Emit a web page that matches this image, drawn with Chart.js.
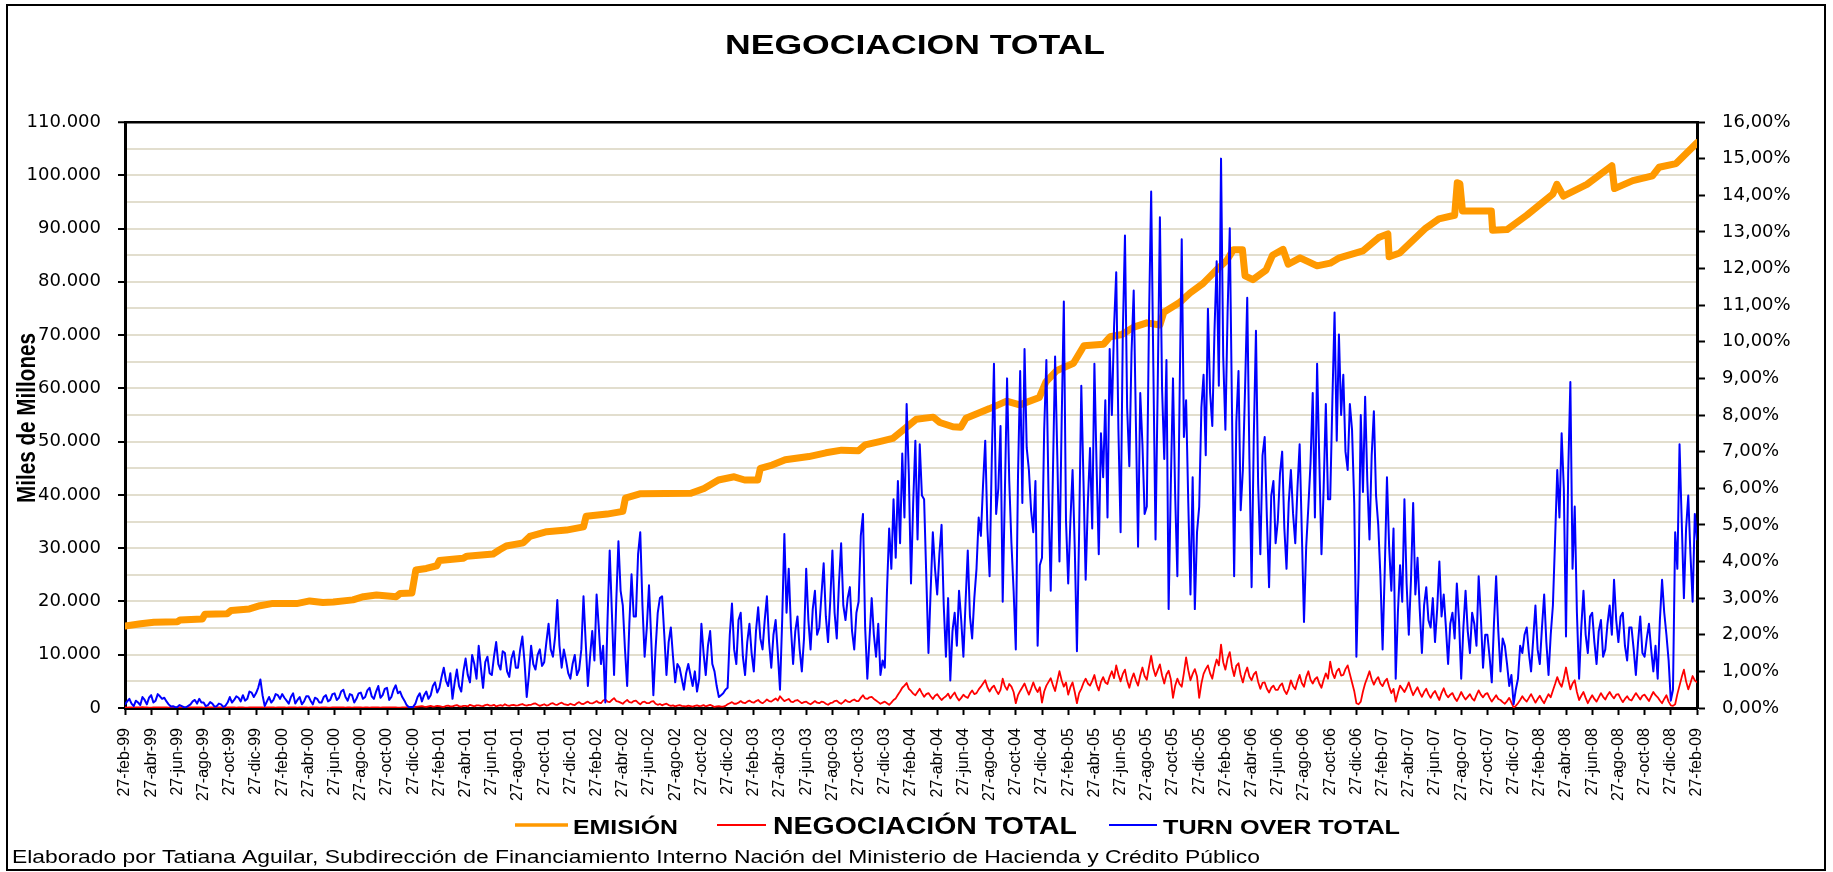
<!DOCTYPE html>
<html>
<head>
<meta charset="utf-8">
<title>Negociación total</title>
<script src="https://cdn.jsdelivr.net/npm/chart.js@4.4.1/dist/chart.umd.min.js"></script>
<style>
  html, body { margin: 0; padding: 0; background: #fff; }
</style>
</head>
<body>
<canvas id="grafico" width="1833" height="872"></canvas>
<script>
// Etiquetas del eje X (una cada 2 meses desde 27-feb-99)
const fechas = [
  '27-feb-99', '27-abr-99', '27-jun-99', '27-ago-99', '27-oct-99', '27-dic-99',
  '27-feb-00', '27-abr-00', '27-jun-00', '27-ago-00', '27-oct-00', '27-dic-00',
  '27-feb-01', '27-abr-01', '27-jun-01', '27-ago-01', '27-oct-01', '27-dic-01',
  '27-feb-02', '27-abr-02', '27-jun-02', '27-ago-02', '27-oct-02', '27-dic-02',
  '27-feb-03', '27-abr-03', '27-jun-03', '27-ago-03', '27-oct-03', '27-dic-03',
  '27-feb-04', '27-abr-04', '27-jun-04', '27-ago-04', '27-oct-04', '27-dic-04',
  '27-feb-05', '27-abr-05', '27-jun-05', '27-ago-05', '27-oct-05', '27-dic-05',
  '27-feb-06', '27-abr-06', '27-jun-06', '27-ago-06', '27-oct-06', '27-dic-06',
  '27-feb-07', '27-abr-07', '27-jun-07', '27-ago-07', '27-oct-07', '27-dic-07',
  '27-feb-08', '27-abr-08', '27-jun-08', '27-ago-08', '27-oct-08', '27-dic-08',
  '27-feb-09'
];

// EMISIÓN: puntos de quiebre (meses desde 27-feb-99) y saldo en miles de millones
const emisionMes = [
  0, 1.2, 2.2, 4.0, 4.2, 5.9, 6.1, 7.8, 8.1, 9.5, 10.3, 11.2, 13.1, 14.1, 15.1, 15.9,
  17.4, 18.2, 19.2, 20.7, 21.0, 21.9, 22.2, 23.0, 23.8, 24.0, 25.8, 26.1, 28.1, 28.6,
  29.1, 30.4, 30.9, 32.2, 33.7, 35.0, 35.2, 36.8, 38.0, 38.2, 39.3, 43.2, 44.2, 45.3,
  46.5, 47.3, 48.3, 48.5, 49.4, 50.4, 52.2, 53.5, 54.7, 56.0, 56.5, 57.6, 58.6, 59.4,
  60.4, 61.7, 62.2, 63.2, 63.8, 64.2, 66.0, 67.3, 68.3, 69.8, 70.3, 71.1, 72.4, 73.2,
  74.7, 75.2, 76.1, 77.0, 78.0, 79.0, 79.3, 80.5, 81.3, 82.3, 83.3, 84.1, 84.6, 85.3,
  85.5, 86.1, 87.1, 87.6, 88.4, 88.8, 89.7, 91.0, 92.0, 92.7, 94.5, 95.7, 96.4, 96.5,
  97.3, 99.3, 100.3, 101.5, 101.7, 101.9, 102.1, 104.3, 104.4, 105.5, 107.0, 109.0,
  109.3, 109.8, 111.6, 113.5, 113.7, 115.1, 116.6, 117.1, 118.4, 120
];
const emisionValor = [
  15.4, 15.8, 16.1, 16.2, 16.5, 16.7, 17.6, 17.7, 18.3, 18.6, 19.2, 19.6, 19.6, 20.1, 19.8, 19.9,
  20.3, 20.9, 21.2, 20.9, 21.5, 21.6, 25.9, 26.2, 26.7, 27.7, 28.1, 28.5, 28.9, 29.7,
  30.4, 31.0, 32.2, 33.1, 33.4, 34.0, 36.0, 36.4, 36.9, 39.4, 40.2, 40.3, 41.2, 42.8,
  43.4, 42.8, 42.8, 45.0, 45.6, 46.6, 47.2, 47.9, 48.4, 48.3, 49.4, 50.0, 50.6, 52.2,
  54.2, 54.6, 53.6, 52.8, 52.7, 54.4, 56.2, 57.6, 56.9, 58.3, 61.2, 63.3, 64.7, 68.0,
  68.3, 69.7, 70.1, 71.5, 72.3, 71.9, 74.3, 76.1, 77.9, 79.7, 82.2, 84.0, 86.0, 86.0,
  81.1, 80.4, 82.2, 85.0, 86.1, 83.3, 84.5, 83.0, 83.5, 84.5, 85.8, 88.3, 89.0, 84.7,
  85.4, 90.1, 91.8, 92.5, 98.6, 98.4, 93.3, 93.3, 89.7, 89.8, 92.5, 96.5,
  98.3, 96.1, 98.3, 101.8, 97.5, 99.0, 99.9, 101.5, 102.2, 106.1
];

// NEGOCIACIÓN TOTAL: 6 lecturas por mes, miles de millones (años feb-feb)
const negociacion1999 = [
  0.10,0.08,0.12,0.10,0.08,0.10, 0.10,0.12,0.15,0.10,0.10,0.08, 0.08,0.10,0.10,0.12,0.12,0.10,
  0.10,0.12,0.08,0.10,0.10,0.08, 0.12,0.10,0.10,0.08,0.08,0.10, 0.10,0.12,0.12,0.10,0.10,0.12,
  0.08,0.10,0.10,0.10,0.10,0.08, 0.12,0.10,0.10,0.12,0.08,0.10, 0.10,0.10,0.12,0.08,0.10,0.12,
  0.10,0.08,0.08,0.10,0.12,0.10, 0.10,0.12,0.10,0.10,0.08,0.10, 0.12,0.10,0.10,0.08,0.10,0.12
];
const negociacion2000 = [
  0.10,0.12,0.08,0.10,0.12,0.10, 0.10,0.08,0.10,0.12,0.12,0.10, 0.08,0.10,0.10,0.12,0.10,0.08,
  0.12,0.10,0.10,0.08,0.08,0.10, 0.10,0.12,0.12,0.10,0.10,0.08, 0.10,0.10,0.08,0.12,0.12,0.10,
  0.10,0.08,0.10,0.12,0.08,0.10, 0.12,0.10,0.10,0.08,0.10,0.12, 0.10,0.12,0.12,0.10,0.10,0.08,
  0.08,0.10,0.12,0.10,0.15,0.12, 0.10,0.20,0.25,0.30,0.35,0.25, 0.20,0.30,0.40,0.25,0.30,0.38
];
const negociacion2001 = [
  0.35,0.25,0.20,0.38,0.45,0.30, 0.30,0.45,0.55,0.35,0.25,0.40, 0.40,0.30,0.60,0.45,0.30,0.50,
  0.50,0.40,0.35,0.55,0.65,0.45, 0.45,0.60,0.30,0.45,0.55,0.40, 0.70,0.50,0.40,0.55,0.60,0.45,
  0.50,0.65,0.75,0.55,0.45,0.60, 0.60,0.80,0.85,0.60,0.40,0.55, 0.70,0.45,0.55,0.80,0.90,0.65,
  0.60,0.85,1.00,0.75,0.65,0.55, 0.80,0.65,0.55,0.90,1.10,0.80, 0.75,1.00,1.20,0.90,0.85,1.05
];
const negociacion2002 = [
  1.30,1.00,0.90,1.40,1.60,1.20, 1.10,1.50,1.85,1.30,1.20,1.00, 0.80,1.20,1.50,1.10,1.00,1.30,
  1.40,1.00,0.70,1.10,1.20,0.90, 0.90,1.20,1.30,0.80,0.60,0.75, 0.50,0.70,0.80,0.55,0.40,0.50,
  0.30,0.45,0.55,0.40,0.35,0.30, 0.45,0.35,0.25,0.40,0.50,0.35, 0.40,0.55,0.30,0.45,0.60,0.40,
  0.20,0.30,0.35,0.25,0.25,0.40, 0.70,0.90,1.10,0.80,0.80,1.00, 1.30,1.00,0.90,1.20,1.40,1.10
];
const negociacion2003 = [
  1.00,1.30,1.50,1.10,0.90,1.20, 1.60,1.30,1.20,1.50,1.80,1.40, 2.20,1.70,1.30,1.50,1.70,1.20,
  1.10,1.40,1.50,1.20,0.90,1.10, 1.20,0.90,0.70,1.00,1.30,1.00, 0.90,1.20,1.10,0.80,0.60,0.90,
  1.00,1.30,1.40,1.00,0.80,1.10, 1.50,1.20,1.10,1.40,1.60,1.30, 1.30,1.90,2.40,1.80,1.70,2.00,
  2.10,1.70,1.40,1.10,0.80,1.00, 1.20,0.90,0.60,1.00,1.50,1.80, 2.50,3.10,3.80,4.20,4.70,3.60
];
const negociacion2004 = [
  3.20,2.70,2.40,3.00,3.60,2.80, 2.10,2.60,2.80,2.20,1.70,2.30, 2.60,2.00,1.50,1.90,2.20,2.70,
  1.80,2.40,2.90,2.00,1.40,1.90, 2.50,2.10,1.90,2.70,3.30,2.60, 2.80,3.50,4.00,4.60,5.20,3.90,
  3.10,3.80,4.20,3.30,2.60,3.40, 5.50,4.10,3.40,4.50,4.00,3.00, 0.90,2.40,3.20,3.90,4.60,3.50,
  2.50,3.60,4.80,3.70,3.00,3.90, 1.00,3.10,4.20,4.90,5.60,4.30, 3.20,5.10,6.90,5.20,4.00,4.80
];
const negociacion2005 = [
  2.50,3.90,4.80,3.00,0.90,2.80, 3.60,4.70,5.50,4.60,4.20,5.10, 6.20,4.40,3.30,4.90,5.80,4.80,
  4.50,5.90,6.90,5.60,8.00,6.30, 5.00,6.40,7.20,5.10,3.80,5.40, 6.50,5.20,4.20,6.10,7.60,6.00,
  5.30,7.70,9.80,7.40,6.00,7.10, 8.20,6.10,4.60,6.30,7.00,5.40, 1.90,4.20,5.50,4.50,4.00,6.60,
  9.50,7.10,5.20,6.40,7.30,5.90, 1.90,4.60,6.40,7.30,8.00,6.50, 5.50,7.60,9.10,8.00,11.90,8.60
];
const negociacion2006 = [
  7.20,9.30,10.50,7.70,6.00,7.90, 8.40,6.20,4.80,6.50,7.60,5.90, 5.20,6.30,6.80,4.90,3.60,4.70,
  4.80,3.60,2.90,3.80,4.20,3.40, 3.40,4.20,4.60,3.30,2.60,3.60, 5.20,4.10,3.50,5.00,6.20,4.70,
  4.00,5.80,6.90,5.30,4.60,5.40, 5.80,4.60,3.80,5.30,6.50,5.50, 8.70,6.60,5.60,6.90,7.40,6.10,
  6.20,7.30,8.00,6.40,4.80,3.20, 0.90,0.70,1.20,3.10,4.60,5.70, 6.90,5.40,4.40,5.30,5.80,4.60
];
const negociacion2007 = [
  4.10,5.00,5.50,4.00,2.80,3.60, 1.20,2.80,4.20,3.60,3.00,3.80, 4.80,3.50,2.40,3.20,3.90,2.90,
  2.10,3.00,3.60,2.60,1.90,2.70, 3.20,2.30,1.50,2.80,3.70,2.60, 2.00,2.50,2.80,1.90,1.30,2.10,
  3.00,2.20,1.60,2.10,2.60,1.80, 1.40,2.40,3.30,2.50,2.00,2.60, 2.80,1.90,1.20,1.80,2.40,1.70,
  1.50,1.10,0.80,1.30,1.90,1.00, 0.10,0.40,0.90,1.50,2.20,1.60, 1.20,1.90,2.60,1.80,1.00,1.70
];
const negociacion2008 = [
  2.30,1.50,0.90,1.80,2.60,2.00, 3.30,4.50,5.80,4.70,4.00,5.60, 7.60,5.40,3.50,4.60,5.20,3.00,
  1.50,2.30,3.00,1.90,0.90,1.70, 2.40,1.70,1.20,2.00,2.80,2.10, 1.60,2.40,3.00,2.30,1.80,2.50,
  2.60,1.80,1.10,1.70,2.20,1.60, 1.40,2.10,2.80,2.20,1.60,2.30, 2.50,1.90,1.30,2.20,3.00,2.40,
  2.00,1.40,0.90,1.70,2.40,1.20, 0.50,0.40,0.70,2.60,4.20,5.80, 7.20,5.00,3.50,4.70,6.00,5.20,
  4.80
];

// TURN OVER TOTAL: 6 lecturas por mes, en % (eje derecho)
const turnover1999 = [
  0.10,0.18,0.25,0.12,0.05,0.20, 0.15,0.08,0.30,0.22,0.10,0.28, 0.35,0.15,0.20,0.38,0.32,0.25,
  0.28,0.18,0.10,0.04,0.05,0.02, 0.03,0.08,0.05,0.02,0.02,0.06, 0.10,0.18,0.22,0.12,0.25,0.15,
  0.15,0.05,0.08,0.16,0.12,0.04, 0.05,0.12,0.10,0.03,0.06,0.15, 0.30,0.15,0.22,0.32,0.28,0.18,
  0.35,0.20,0.25,0.45,0.42,0.30, 0.40,0.55,0.78,0.35,0.05,0.18, 0.30,0.15,0.22,0.38,0.35,0.25
];
const turnover2000 = [
  0.38,0.28,0.20,0.12,0.30,0.40, 0.12,0.22,0.30,0.10,0.18,0.32, 0.32,0.20,0.10,0.28,0.25,0.15,
  0.15,0.30,0.35,0.18,0.22,0.38, 0.40,0.22,0.28,0.45,0.50,0.30, 0.20,0.38,0.35,0.15,0.25,0.40,
  0.42,0.25,0.30,0.48,0.55,0.32, 0.25,0.45,0.60,0.28,0.35,0.52, 0.55,0.22,0.30,0.50,0.62,0.40,
  0.45,0.30,0.20,0.08,0.02,0.03, 0.03,0.12,0.30,0.40,0.18,0.35, 0.45,0.25,0.35,0.60,0.70,0.42
];
const turnover2001 = [
  0.55,0.85,1.10,0.75,0.60,0.95, 0.25,0.70,1.05,0.60,0.45,1.00, 1.35,0.90,0.70,1.45,1.20,0.80,
  1.70,1.10,0.55,1.25,1.40,0.95, 0.90,1.40,1.80,1.20,1.05,1.55, 1.50,1.00,0.85,1.35,1.55,1.10,
  1.10,1.60,1.95,1.25,0.30,0.90, 1.70,1.20,1.05,1.45,1.60,1.15, 1.25,1.80,2.30,1.60,1.40,1.95,
  2.95,1.70,1.10,1.60,1.30,0.95, 0.80,1.20,1.45,0.90,1.05,1.60, 3.05,1.80,0.60,1.40,2.10,1.30
];
const turnover2002 = [
  3.10,2.20,1.20,1.70,0.15,2.40, 4.30,2.60,0.90,2.90,4.55,3.20, 2.80,1.60,0.60,2.30,3.65,2.50,
  2.50,4.20,4.80,2.80,1.40,2.20, 3.35,1.90,0.35,1.60,2.60,3.00, 3.05,2.00,0.90,1.80,2.20,1.40,
  0.70,1.20,1.10,0.80,0.50,0.95, 1.20,0.90,0.60,1.00,0.45,0.80, 2.30,1.50,0.90,1.70,2.10,1.20,
  1.00,0.60,0.30,0.35,0.40,0.50, 0.55,2.00,2.85,1.60,1.20,2.40, 2.60,1.40,0.90,1.80,2.30,1.50
];
const turnover2003 = [
  1.00,2.10,2.75,1.90,1.60,2.40, 3.05,1.80,1.10,2.00,2.40,1.50, 0.50,2.40,4.75,2.60,3.80,2.20,
  1.20,2.10,2.50,1.60,1.00,1.90, 3.80,2.40,1.60,2.70,3.20,2.00, 2.20,3.10,3.95,2.50,1.80,2.90,
  4.30,2.60,1.90,3.40,4.50,2.80, 2.40,3.00,3.30,2.10,1.60,2.60, 2.90,4.70,5.30,2.20,0.80,1.90,
  3.00,2.00,1.40,2.30,0.90,1.30, 1.10,3.20,4.90,3.80,5.70,4.10, 6.20,4.50,6.95,5.20,8.30,6.40
];
const turnover2004 = [
  3.40,5.60,7.30,4.60,7.20,5.80, 5.70,3.60,1.50,3.20,4.80,3.80, 3.10,4.20,5.00,2.80,1.40,3.00,
  0.75,2.10,2.60,1.70,3.20,2.40, 1.40,2.90,4.30,2.50,1.90,3.00, 3.80,5.20,4.70,6.10,7.30,4.90,
  3.60,6.80,9.40,5.30,6.00,7.70, 2.90,5.90,9.00,6.20,4.50,3.20, 1.60,6.30,9.20,5.60,9.80,7.10,
  6.50,5.40,4.80,6.20,1.70,3.90, 4.10,7.60,9.50,5.80,3.20,6.40, 9.60,6.90,4.00,7.80,11.10,5.10
];
const turnover2005 = [
  3.40,5.10,6.50,4.40,1.55,4.80, 8.80,6.20,3.50,5.60,7.10,4.90, 9.40,6.60,4.20,7.50,6.30,8.40,
  5.20,9.80,8.00,10.40,11.90,7.60, 4.80,10.20,12.90,8.20,6.60,9.70, 11.40,7.80,4.40,8.60,7.20,5.30,
  5.50,10.60,14.10,9.30,4.60,8.80, 13.40,8.70,6.80,9.50,2.70,6.10, 9.00,5.80,3.60,8.40,12.80,7.40,
  8.40,5.60,3.10,6.30,2.70,4.80, 5.50,8.20,9.10,6.90,10.90,8.60, 7.70,10.30,12.20,8.80,15.00,9.60
];
const turnover2006 = [
  7.60,10.80,13.10,8.20,3.60,7.80, 9.20,5.40,6.50,8.70,11.20,6.80, 3.30,7.40,10.30,6.10,4.20,6.90,
  7.40,5.20,3.30,5.80,6.20,4.50, 5.10,6.40,7.00,4.90,3.80,5.60, 6.50,5.30,4.50,6.00,7.20,4.80,
  2.35,4.40,5.50,6.70,8.60,5.20, 9.40,6.80,4.20,6.00,8.30,5.70, 5.70,8.40,10.80,7.30,10.20,8.00,
  9.10,7.00,6.50,8.30,7.60,5.60, 1.40,3.70,8.00,5.90,8.50,6.20, 4.60,6.90,8.10,5.80,5.00,3.60
];
const turnover2007 = [
  1.60,3.80,6.30,4.40,3.20,4.90, 0.80,2.60,3.90,2.90,5.70,3.40, 2.00,3.50,5.60,3.10,4.10,2.70,
  1.50,2.80,3.30,2.40,2.20,3.00, 1.80,2.70,4.00,2.50,3.10,2.20, 1.20,2.30,2.60,1.90,3.40,2.40,
  0.80,2.20,3.20,2.10,1.50,2.60, 2.30,1.70,3.60,2.50,1.10,2.00, 2.00,1.40,0.70,2.30,3.60,2.10,
  1.00,1.90,1.70,1.20,0.60,0.90, 0.10,0.50,0.80,1.70,1.50,2.00, 2.20,1.50,1.00,1.90,2.80,1.60
];
const turnover2008 = [
  1.20,2.20,3.10,1.80,0.90,2.00, 2.80,4.60,6.50,5.20,7.50,6.00, 1.95,6.40,8.90,3.80,5.50,2.60,
  0.80,2.20,3.20,2.00,1.50,2.50, 2.60,1.80,1.20,2.10,2.40,1.40, 1.60,2.30,2.80,2.00,3.50,2.40,
  1.80,2.50,2.60,1.70,1.30,2.20, 2.20,1.60,0.90,1.80,2.50,1.50, 1.40,1.90,2.30,1.60,1.00,1.70,
  0.80,2.40,3.50,2.60,2.00,1.30, 0.20,0.50,4.80,3.80,7.20,5.10, 3.00,4.90,5.80,4.20,2.90,5.30,
  4.60
];

const negociacion = [].concat(negociacion1999, negociacion2000, negociacion2001, negociacion2002,
  negociacion2003, negociacion2004, negociacion2005, negociacion2006, negociacion2007, negociacion2008);
const turnover = [].concat(turnover1999, turnover2000, turnover2001, turnover2002, turnover2003,
  turnover2004, turnover2005, turnover2006, turnover2007, turnover2008);

// lecturas cada sexto de mes
function aPuntos(valores) {
  return valores.map((v, i) => ({ x: i / 6, y: v }));
}

const FUENTE = "'Liberation Sans', Arial, sans-serif";
const FUENTE_EJES = "'DejaVu Sans', 'Liberation Sans', sans-serif";

// texto estirado a un ancho dado (el original tiene la letra ensanchada)
function textoAjustado(ctx, texto, fuente, x, y, ancho) {
  ctx.font = fuente;
  const w = ctx.measureText(texto).width;
  ctx.save();
  ctx.translate(x, y);
  ctx.scale(ancho / w, 1);
  ctx.fillText(texto, 0, 0);
  ctx.restore();
}

const marco = {
  id: 'marco',
  beforeDraw(chart) {
    const ctx = chart.ctx;
    ctx.save();
    ctx.fillStyle = '#fff';
    ctx.fillRect(0, 0, chart.width, chart.height);
    ctx.strokeStyle = '#000';
    ctx.lineWidth = 2;
    ctx.strokeRect(7, 5, 1818, 865);
    ctx.restore();
  }
};

const textos = {
  id: 'textos',
  afterDraw(chart) {
    const ctx = chart.ctx;
    ctx.save();
    ctx.fillStyle = '#000';
    ctx.textAlign = 'left';
    ctx.textBaseline = 'alphabetic';

    // titulo
    textoAjustado(ctx, 'NEGOCIACION TOTAL', 'bold 28px ' + FUENTE, 725, 54, 380);

    // titulo del eje izquierdo
    ctx.save();
    ctx.translate(35, 503);
    ctx.rotate(-Math.PI / 2);
    textoAjustado(ctx, 'Miles de Millones', 'bold 26px ' + FUENTE, 0, 0, 170);
    ctx.restore();

    // leyenda
    const muestras = [
      { color: '#ff9900', ancho: 3.5, x0: 515, x1: 568 },
      { color: '#ff0000', ancho: 2, x0: 717, x1: 766 },
      { color: '#0000ff', ancho: 2, x0: 1109, x1: 1157 }
    ];
    muestras.forEach(m => {
      ctx.beginPath();
      ctx.strokeStyle = m.color;
      ctx.lineWidth = m.ancho;
      ctx.moveTo(m.x0, 825);
      ctx.lineTo(m.x1, 825);
      ctx.stroke();
    });
    textoAjustado(ctx, 'EMISIÓN', 'bold 19.5px ' + FUENTE, 573, 834, 105);
    textoAjustado(ctx, 'NEGOCIACIÓN TOTAL', 'bold 24px ' + FUENTE, 773, 834, 304);
    textoAjustado(ctx, 'TURN OVER TOTAL', 'bold 20px ' + FUENTE, 1163, 834, 237);

    // pie
    textoAjustado(ctx,
      'Elaborado por Tatiana Aguilar, Subdirección de Financiamiento Interno Nación del Ministerio de Hacienda y Crédito Público',
      '17.5px ' + FUENTE, 12, 863, 1248);
    ctx.restore();
  }
};

const canvas = document.getElementById('grafico');
new Chart(canvas, {
  type: 'line',
  data: {
    datasets: [
      {
        label: 'TURN OVER TOTAL',
        data: aPuntos(turnover),
        yAxisID: 'y2',
        borderColor: '#0000ff',
        borderWidth: 2,
        order: 0
      },
      {
        label: 'NEGOCIACIÓN TOTAL',
        data: aPuntos(negociacion),
        yAxisID: 'y',
        borderColor: '#ff0000',
        borderWidth: 1.8,
        order: 1
      },
      {
        label: 'EMISIÓN',
        data: emisionMes.map((m, i) => ({ x: m, y: emisionValor[i] })),
        yAxisID: 'y',
        borderColor: '#ff9900',
        borderWidth: 7,
        order: 2
      }
    ]
  },
  options: {
    responsive: false,
    animation: false,
    devicePixelRatio: 1,
    events: [],
    layout: { padding: { left: 8, right: 10, top: 122, bottom: 0 } },
    elements: {
      point: { radius: 0 },
      line: { tension: 0, borderJoinStyle: 'round', borderCapStyle: 'round', fill: false }
    },
    plugins: {
      legend: { display: false },
      title: { display: false },
      tooltip: { enabled: false }
    },
    scales: {
      x: {
        type: 'linear',
        min: 0,
        max: 120,
        afterFit(scale) { scale.height = 164; },
        border: { display: true, color: '#000', width: 3 },
        grid: { drawOnChartArea: false, drawTicks: true, tickLength: 7, tickColor: '#000', tickWidth: 2 },
        ticks: {
          stepSize: 2,
          autoSkip: false,
          minRotation: 90,
          maxRotation: 90,
          padding: 13,
          color: '#000',
          font: { family: FUENTE, size: 16 },
          callback: v => fechas[Math.round(v / 2)]
        }
      },
      y: {
        position: 'left',
        min: 0,
        max: 110,
        afterFit(scale) { scale.width = 117; },
        border: { display: true, color: '#000', width: 3 },
        grid: {
          color: c => (c.tick && c.tick.value === 110) ? '#000' : '#e2dece',
          lineWidth: c => (c.tick && c.tick.value === 110) ? 2.5 : 2,
          tickLength: 7,
          tickWidth: 2,
          tickColor: c => (c.tick && c.tick.value % 10 === 0) ? '#000' : 'rgba(0,0,0,0)'
        },
        ticks: {
          stepSize: 5,
          autoSkip: false,
          padding: 17,
          color: '#000',
          font: { family: FUENTE_EJES, size: 18 },
          callback: v => v % 10 !== 0 ? '' : (v === 0 ? '0' : v + '.000')
        }
      },
      y2: {
        position: 'right',
        min: 0,
        max: 16,
        afterFit(scale) { scale.width = 126; },
        border: { display: true, color: '#000', width: 3 },
        grid: { drawOnChartArea: false, tickLength: 8, tickWidth: 2, tickColor: '#000' },
        ticks: {
          stepSize: 1,
          autoSkip: false,
          padding: 17,
          color: '#000',
          font: { family: FUENTE_EJES, size: 18 },
          callback: v => v.toFixed(2).replace('.', ',') + '%'
        }
      }
    }
  },
  plugins: [marco, textos]
});
</script>
</body>
</html>
